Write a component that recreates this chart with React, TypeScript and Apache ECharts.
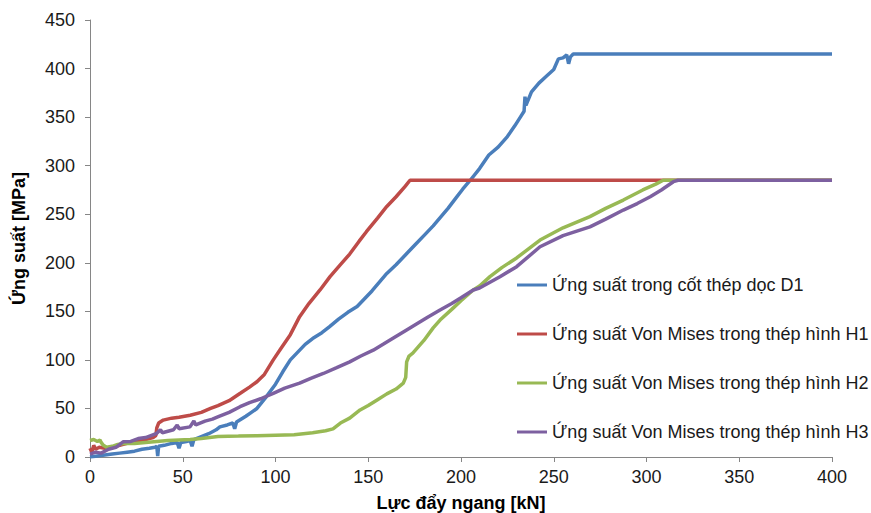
import React, { useEffect, useRef } from "react";
import * as echarts from "echarts";

const seriesNames = [
  "Ứng suất trong cốt thép dọc D1",
  "Ứng suất Von Mises trong thép hình H1",
  "Ứng suất Von Mises trong thép hình H2",
  "Ứng suất Von Mises trong thép hình H3",
];
const seriesColors = ["#4A7EBB", "#BE4B48", "#98B954", "#7D60A0"];

const xTicks = [0, 50, 100, 150, 200, 250, 300, 350, 400];
const yTicks = [0, 50, 100, 150, 200, 250, 300, 350, 400, 450];

const d1: number[][] = [
  [0, 0], [4, 1], [8, 2], [12, 3], [16, 4], [20, 5], [24, 6], [28, 8], [32, 9], [35, 10], [36, 11], [36.5, 1], [37, 11],
  [40, 12], [44, 14], [47, 15], [48, 9], [49, 15], [52, 16], [54, 17], [55, 11], [56, 18], [60, 21], [64, 24], [68, 28],
  [70, 31], [74, 33], [77, 35], [78, 29], [79, 36], [84, 42], [87, 46], [90, 50], [95, 62], [100, 75], [104, 88], [108, 100],
  [112, 108], [116, 116], [120, 122], [125, 128], [129, 134], [134, 142], [139, 149], [144, 155], [148, 163], [152, 171],
  [156, 180], [160, 189], [165, 198], [170, 208], [175, 218], [180, 228], [185, 238], [189, 247], [193, 256], [197, 266],
  [201, 276], [205, 285], [210, 297], [215, 311], [220, 319], [225, 330], [229, 341], [232, 350], [234, 356], [234.5, 371],
  [235, 362], [238, 376], [242, 385], [246, 392], [250, 399], [252.5, 410], [255, 411], [257, 414], [258, 405], [259, 412],
  [260.5, 415], [300, 415], [350, 415], [400, 415],
];

const h1: number[][] = [
  [0, 9], [1, 5], [2, 12], [3, 8], [5, 10], [8, 9], [12, 10], [16, 12], [20, 14], [25, 16], [30, 18], [34, 20], [35.5, 22],
  [36, 30], [37, 35], [39.5, 38], [44, 40], [48, 41], [54, 43], [60, 46], [65, 50], [69, 53], [75, 58], [81, 65.6], [86, 72],
  [90, 77.5], [94, 85], [98.8, 100], [103, 112], [108, 126], [113, 144.5], [118, 158], [124, 172], [129.4, 185.7], [135, 198],
  [140, 209], [145, 222], [149, 232], [155, 246], [160, 258], [165, 268], [170, 279], [172.5, 285], [400, 285],
];

const h2: number[][] = [
  [0, 17], [2, 18], [4, 16], [5.4, 17.5], [6, 15], [7.2, 12], [9, 10], [12, 11], [15, 13], [18, 14], [24, 14], [30, 15],
  [36, 16], [42, 17], [48, 17.5], [54, 18], [60, 19], [69, 21], [80, 21.5], [90, 22], [100, 22.5], [110, 23], [120, 25],
  [127, 27], [131, 29], [135, 35], [140, 40], [145.6, 48.4], [150, 53], [155, 59], [160, 65], [165, 70], [168.9, 76],
  [170.2, 82], [170.7, 98], [172, 104], [174, 107], [180, 120], [185, 133], [188.7, 141], [195, 152], [200, 161],
  [206.6, 172], [210, 176], [215.6, 185.7], [222, 195], [230, 205], [242.6, 223.4], [255, 236], [269.5, 247.5], [278, 256],
  [287.5, 264.6], [298, 275], [305, 281], [309, 285], [400, 285],
];

const h3: number[][] = [
  [0, 3], [3, 5], [6, 4], [10, 8], [14, 10], [18, 15.8], [22, 16], [26, 19], [30, 20], [36, 24.4], [38, 28], [39, 25],
  [45, 28], [47, 33], [48, 29], [53.9, 31], [56, 37], [57, 33], [62, 37], [66, 39], [69.2, 41.5], [75, 46], [80.9, 51.8],
  [86, 56], [92, 60], [98.8, 65.6], [105, 71], [113, 76], [119, 81], [125.8, 86], [133, 92], [140, 98], [146, 104],
  [152.7, 110], [158, 116], [164, 123], [170.7, 130.8], [176, 137], [182, 144], [188.7, 151.4], [195, 158], [200, 164],
  [206.6, 172], [210, 174], [221, 185.7], [230, 196], [242.6, 216.5], [255, 228], [269.5, 237], [278, 245], [287.5, 254.3],
  [295, 261], [302, 268], [308, 275], [314.5, 283.5], [317, 285], [400, 285],
];

const allData = [d1, h1, h2, h3];

const FONT = "'Liberation Sans', Arial, sans-serif";
const AXIS_COLOR = "#868686";
const FS = 18;

export default function App() {
  const ref = useRef<HTMLDivElement>(null);
  useEffect(() => {
    if (!ref.current) return;
    const chart = echarts.init(ref.current, undefined, { renderer: "svg" });
    const axisCommon = {
      type: "value" as const,
      axisLine: { show: true, lineStyle: { color: AXIS_COLOR, width: 1 } },
      axisTick: { show: true, length: 5, lineStyle: { color: AXIS_COLOR } },
      splitLine: { show: false },
      nameLocation: "middle" as const,
      nameTextStyle: { fontFamily: FONT, fontSize: FS, fontWeight: "bold" as const, color: "#000" },
    };
    chart.setOption({
      animation: false,
      backgroundColor: "#ffffff",
      textStyle: { fontFamily: FONT },
      grid: { left: 90, right: 39, top: 20, bottom: 56, containLabel: false, outerBoundsMode: "none" },
      xAxis: {
        ...axisCommon,
        min: xTicks[0],
        max: xTicks[xTicks.length - 1],
        interval: xTicks[1] - xTicks[0],
        name: "Lực đẩy ngang [kN]",
        nameGap: 37,
        axisLabel: { fontFamily: FONT, fontSize: FS, color: "#1a1a1a", margin: 11 },
      },
      yAxis: {
        ...axisCommon,
        min: yTicks[0],
        max: yTicks[yTicks.length - 1],
        interval: yTicks[1] - yTicks[0],
        name: "Ứng suất [MPa]",
        nameGap: 62,
        axisLabel: { fontFamily: FONT, fontSize: FS, color: "#1a1a1a", margin: 15 },
      },
      legend: {
        orient: "vertical",
        left: 517,
        top: 275,
        padding: 0,
        itemGap: 29,
        itemWidth: 30,
        itemHeight: 3,
        icon: "rect",
        textStyle: { fontFamily: FONT, fontSize: FS, color: "#1a1a1a", lineHeight: 20 },
        data: seriesNames,
      },
      series: allData.map((d, i) => ({
        name: seriesNames[i],
        type: "line",
        data: d,
        showSymbol: false,
        symbol: "none",
        color: seriesColors[i],
        lineStyle: { width: 3.5, color: seriesColors[i] },
      })),
    });
    return () => chart.dispose();
  }, []);
  return (
    <div
      ref={ref}
      style={{ position: "fixed", left: 0, top: 0, width: 871, height: 513, background: "#fff" }}
    />
  );
}
